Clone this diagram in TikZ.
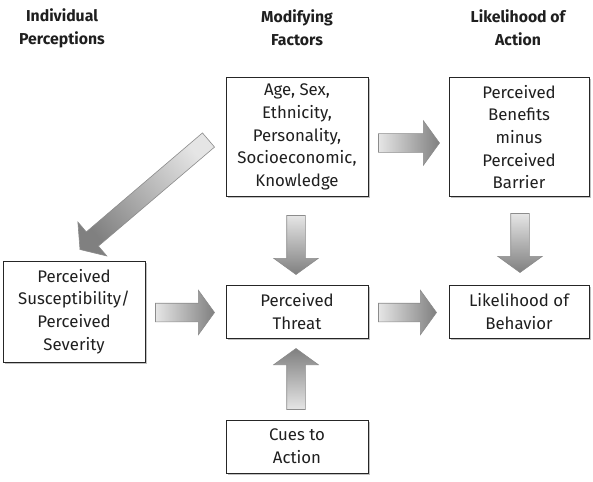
\documentclass[tikz,border=0pt]{standalone}
\usepackage{fontspec}
\setmainfont{Fira Sans}
\usetikzlibrary{shapes.arrows,calc,shadows}
\newcommand\barrowdraw[2]{\path let \p1=#1, \p2=#2, \n1={atan2(\y2-\y1,\x2-\x1)}, \n2={veclen(\x2-\x1,\y2-\y1)} in node[barrow, minimum height=\n2, rotate=\n1, shading angle={90+\n1}] at (\p1) {};}
\begin{document}
\begin{tikzpicture}[x=1pt,y=-1pt,
  box/.style={draw=black!85, line width=1pt, fill=white, align=center, inner sep=0pt,
    font=\fontsize{16.8}{22.7}\selectfont, text=black!88,
    drop shadow={shadow xshift=1.5pt, shadow yshift=-1.5pt, fill=black!40, opacity=0.6}},
  head/.style={align=center, text=black!88, font=\bfseries\fontsize{15.8}{23}\selectfont},
  barrow/.style={single arrow, draw=black!45, line width=0.6pt, left color=black!10, right color=black!50,
    inner xsep=0pt, inner ysep=9pt, minimum width=0pt, single arrow head extend=13pt,
    single arrow tip angle=108, anchor=tail, outer sep=0pt}
]
\useasboundingbox (0,0) rectangle (593,481);
\fill[white] (0,0) rectangle (593,481);

\node[head] (h1) at (62,28) {Individual\\Perceptions};
\node[head] (h2) at (297,28) {Modifying\\Factors};
\node[head] (h3) at (518,28) {Likelihood of\\Action};

\node[box, minimum width=142, minimum height=118] (age) at (297,137) {Age, Sex,\\Ethnicity,\\Personality,\\Socioeconomic,\\Knowledge};
\node[box, minimum width=140, minimum height=118] (ben) at (519,137) {Perceived\\Benefits\\minus\\Perceived\\Barrier};
\node[box, minimum width=142, minimum height=101] (sus) at (74,311.5) {Perceived\\Susceptibility/\\Perceived\\Severity};
\node[box, minimum width=142, minimum height=53] (thr) at (297,311.5) {Perceived\\Threat};
\node[box, minimum width=140, minimum height=53] (beh) at (519,311.5) {Likelihood of\\Behavior};
\node[box, minimum width=142, minimum height=53] (cue) at (297,446.5) {Cues to\\Action};

\barrowdraw{($(age.east)+(10,6)$)}{($(ben.west)+(-9,6)$)}
\barrowdraw{($(thr.east)+(10,1)$)}{($(beh.west)+(-12,1)$)}
\barrowdraw{($(sus.east)+(10,1)$)}{($(thr.west)+(-11,1)$)}
\barrowdraw{($(age.south)+(-1,19)$)}{($(thr.north)+(-1,-10)$)}
\barrowdraw{($(ben.south)+(1,17)$)}{($(beh.north)+(1,-12)$)}
\barrowdraw{($(cue.north)+(-1,-10)$)}{($(thr.south)+(-1,10)$)}
\barrowdraw{($(age.west)+(-17,3)$)}{($(sus.north)+(6,-11)$)}
\end{tikzpicture}
\end{document}
